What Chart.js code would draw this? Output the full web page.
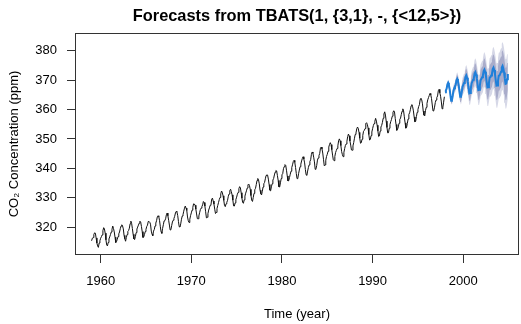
<!DOCTYPE html>
<html>
<head>
<meta charset="utf-8">
<script src="https://cdn.jsdelivr.net/npm/chart.js@4.4.1/dist/chart.umd.min.js"></script>
<style>
  html, body { margin: 0; padding: 0; background: #ffffff; }
  #wrap { width: 521px; height: 324px; }
</style>
</head>
<body>
<div id="wrap"><canvas id="c" width="521" height="324"></canvas></div>
<script>
// ---- Data ----
const titleText = 'Forecasts from TBATS(1, {3,1}, -, {<12,5>})';
const xTitle = 'Time (year)';
const yTitle = 'CO\u2082 Concentration (ppm)';
const historyStart = 1959;      // monthly, Jan 1959
const forecastStart = 1998;     // monthly, Jan 1998
const xTickValues = [1960, 1970, 1980, 1990, 2000];
const yTickValues = [320, 330, 340, 350, 360, 370, 380];

// Observed monthly CO2 (ppm), 1959-1997
const co2 = [
  315.42,316.31,316.50,317.56,318.13,318.00,316.39,314.65,313.68,313.18,314.66,315.43,
  316.27,316.81,317.42,318.87,319.87,319.43,318.01,315.74,314.00,313.68,314.84,316.03,
  316.73,317.54,318.38,319.31,320.42,319.61,318.42,316.63,314.83,315.16,315.94,316.85,
  317.78,318.40,319.53,320.42,320.85,320.45,319.45,317.25,316.11,315.27,316.53,317.53,
  318.58,318.92,319.70,321.22,322.08,321.31,319.58,317.61,316.05,315.83,316.91,318.20,
  319.41,320.07,320.74,321.40,322.06,321.73,320.27,318.54,316.54,316.71,317.53,318.55,
  319.27,320.28,320.73,321.97,322.00,321.71,321.05,318.71,317.66,317.14,318.70,319.25,
  320.46,321.43,322.23,323.54,323.91,323.59,322.24,320.20,318.48,317.94,319.63,320.87,
  322.17,322.34,322.88,324.25,324.83,323.93,322.38,320.76,319.10,319.24,320.56,321.80,
  322.40,322.99,323.73,324.86,325.40,325.20,323.98,321.95,320.18,320.09,321.16,322.74,
  323.83,324.26,325.47,326.50,327.21,326.54,325.72,323.50,322.22,321.62,322.69,323.95,
  324.89,325.82,326.77,327.97,327.91,327.50,326.18,324.53,322.93,322.90,323.85,324.96,
  326.01,326.51,327.01,327.62,328.76,328.40,327.20,325.27,323.20,323.40,324.63,325.85,
  326.60,327.47,327.58,329.56,329.90,328.92,327.88,326.16,324.68,325.04,326.34,327.39,
  328.37,329.40,330.14,331.33,332.31,331.90,330.70,329.15,327.35,327.02,327.99,328.48,
  329.18,330.55,331.32,332.48,332.92,332.08,331.01,329.23,327.27,327.21,328.29,329.41,
  330.23,331.25,331.87,333.14,333.80,333.43,331.73,329.90,328.40,328.17,329.32,330.59,
  331.58,332.39,333.33,334.41,334.71,334.17,332.89,330.77,329.14,328.78,330.14,331.52,
  332.75,333.24,334.53,335.90,336.57,336.10,334.76,332.59,331.42,330.98,332.24,333.68,
  334.80,335.22,336.47,337.59,337.84,337.72,336.37,334.51,332.60,332.38,333.75,334.78,
  336.05,336.59,337.79,338.71,339.30,339.12,337.56,335.92,333.75,333.70,335.12,336.56,
  337.84,338.19,339.91,340.60,341.29,341.00,339.39,337.43,335.72,335.84,336.93,338.04,
  339.06,340.30,341.21,342.33,342.74,342.08,340.32,338.26,336.52,336.68,338.19,339.44,
  340.57,341.44,342.53,343.39,343.96,343.18,341.88,339.65,337.81,337.69,339.09,340.32,
  341.20,342.35,342.93,344.77,345.58,345.14,343.81,342.21,339.69,339.82,340.98,342.82,
  343.52,344.33,345.11,346.88,347.25,346.62,345.22,343.11,340.90,341.18,342.80,344.04,
  344.79,345.82,347.25,348.17,348.74,348.07,346.38,344.51,342.92,342.62,344.06,345.38,
  346.11,346.78,347.68,349.37,350.03,349.37,347.76,345.73,344.68,343.99,345.48,346.72,
  347.84,348.29,349.23,350.80,351.66,351.07,349.33,347.92,346.27,346.18,347.64,348.78,
  350.25,351.54,352.05,353.41,354.04,353.62,352.22,350.27,348.55,348.72,349.91,351.18,
  352.60,352.92,353.53,355.26,355.52,354.97,353.75,351.52,349.64,349.83,351.14,352.37,
  353.50,354.55,355.23,356.04,357.00,356.07,354.67,352.76,350.82,351.04,352.69,354.07,
  354.59,355.63,357.03,358.48,359.22,358.12,356.06,353.92,352.05,352.11,353.64,354.89,
  355.88,356.63,357.72,359.07,359.58,359.17,356.94,354.92,352.94,353.23,354.09,355.33,
  356.63,357.10,358.32,359.41,360.23,359.55,357.53,355.48,353.67,353.95,355.30,356.78,
  358.34,358.89,359.95,361.25,361.67,360.94,359.55,357.49,355.84,356.00,357.59,359.05,
  359.98,361.03,361.66,363.48,363.82,363.30,361.94,359.50,358.11,357.80,359.61,360.74,
  362.09,363.29,364.06,364.76,365.45,365.01,363.70,361.54,359.51,359.65,360.80,362.38,
  363.23,364.06,364.61,366.40,366.84,365.68,364.52,362.57,360.24,360.83,362.49,364.34
];

// Point forecast, 1998-2004 (monthly)
const fcMean = [
  365.9,366.5,367.1,368.6,369.1,368.3,366.9,364.9,363.0,363.1,364.6,366.4,
  367.2,367.8,368.4,369.9,370.4,369.6,368.2,366.2,364.3,364.4,365.9,367.7,
  368.4,369.0,369.6,371.1,371.6,370.8,369.4,367.4,365.5,365.6,367.1,368.9,
  369.5,370.1,370.7,372.2,372.7,371.9,370.5,368.5,366.6,366.7,368.2,370.0,
  370.4,371.0,371.6,373.1,373.6,372.8,371.4,369.4,367.5,367.6,369.1,370.9,
  371.0,371.6,372.2,373.7,374.2,373.4,372.0,370.0,368.1,368.2,369.7,371.5,
  371.6,372.2,372.8,374.3,374.8,374.0,372.6,370.6,368.7,368.8,370.3,372.1
];
// 95% interval
const hi95 = [
  366.6,367.3,368.0,369.6,370.2,369.5,368.2,366.3,364.5,364.7,366.3,368.2,
  369.1,369.8,370.5,372.1,372.7,372.0,370.7,368.8,367.0,367.2,368.8,370.7,
  371.5,372.2,372.9,374.5,375.1,374.4,373.1,371.2,369.4,369.6,371.2,373.1,
  373.8,374.5,375.2,376.8,377.4,376.7,375.4,373.5,371.7,371.9,373.5,375.4,
  375.9,376.6,377.3,378.9,379.5,378.8,377.5,375.6,373.8,374.0,375.6,377.5,
  377.7,378.4,379.1,380.7,381.3,380.6,379.3,377.4,375.6,375.8,377.4,379.3,
  379.4,380.1,380.8,382.3,382.9,382.2,380.8,378.9,377.1,377.2,378.8,380.7
];
const lo95 = [
  365.2,365.7,366.2,367.6,368.0,367.1,365.6,363.5,361.5,361.5,362.9,364.6,
  365.3,365.8,366.3,367.7,368.1,367.2,365.7,363.6,361.6,361.6,363.0,364.7,
  365.3,365.8,366.3,367.7,368.1,367.2,365.7,363.6,361.6,361.6,363.0,364.7,
  365.2,365.7,366.2,367.6,368.0,367.1,365.6,363.5,361.5,361.5,362.9,364.6,
  364.9,365.4,365.9,367.3,367.7,366.8,365.3,363.2,361.2,361.2,362.6,364.3,
  364.3,364.8,365.3,366.7,367.1,366.2,364.7,362.6,360.6,360.6,362.0,363.7,
  363.8,364.3,364.8,366.3,366.7,365.8,364.4,362.3,360.3,360.4,361.8,363.5
];
// 80% interval
const hi80 = [
  366.4,367.0,367.7,369.3,369.8,369.1,367.7,365.8,364.0,364.1,365.7,367.6,
  368.4,369.1,369.8,371.3,371.9,371.2,369.8,367.9,366.1,366.2,367.8,369.7,
  370.4,371.1,371.7,373.3,373.9,373.1,371.8,369.9,368.0,368.2,369.8,371.6,
  372.3,373.0,373.6,375.2,375.7,375.0,373.7,371.7,369.9,370.1,371.6,373.5,
  374.0,374.6,375.3,376.9,377.4,376.7,375.3,373.4,371.6,371.7,373.3,375.2,
  375.4,376.0,376.7,378.3,378.8,378.1,376.7,374.8,373.0,373.1,374.7,376.6,
  376.7,377.3,378.0,379.5,380.1,379.3,377.9,376.0,374.2,374.3,375.8,377.7
];
const lo80 = [
  365.4,366.0,366.5,367.9,368.4,367.5,366.1,364.0,362.0,362.1,363.5,365.2,
  366.0,366.5,367.0,368.5,368.9,368.0,366.6,364.5,362.5,362.6,364.0,365.7,
  366.4,366.9,367.5,368.9,369.3,368.5,367.0,364.9,363.0,363.0,364.4,366.2,
  366.7,367.2,367.8,369.2,369.7,368.8,367.3,365.3,363.3,363.3,364.8,366.5,
  366.8,367.4,367.9,369.3,369.8,368.9,367.5,365.4,363.4,363.5,364.9,366.6,
  366.6,367.2,367.7,369.1,369.6,368.7,367.3,365.2,363.2,363.3,364.7,366.4,
  366.5,367.1,367.6,369.1,369.5,368.7,367.3,365.2,363.2,363.3,364.8,366.5
];

// ---- Build point lists (time = year + month/12) ----
const toPts = (arr, start) => arr.map((v, i) => ({ x: start + i / 12, y: v }));

const FONT = "'Liberation Sans', Arial, Helvetica, sans-serif";

const boxPlugin = {
  id: 'rbox',
  afterDraw(chart) {
    const { ctx, chartArea: a } = chart;
    ctx.save();
    ctx.strokeStyle = '#333333';
    ctx.lineWidth = 1;
    const l = Math.round(a.left) + 0.5, t = Math.round(a.top) + 0.5;
    const r = Math.round(a.right) - 0.5, b = Math.round(a.bottom) - 0.5;
    ctx.strokeRect(l, t, r - l, b - t);
    ctx.restore();
  }
};

const bandStyle = { pointRadius: 0, borderWidth: 0, borderColor: 'rgba(0,0,0,0)', tension: 0 };

new Chart(document.getElementById('c'), {
  type: 'line',
  data: {
    datasets: [
      { label: 'Forecast', data: toPts(fcMean, forecastStart), borderColor: '#1f7fd9', borderWidth: 2,
        pointRadius: 0, tension: 0, fill: false },
      { label: 'Observed', data: toPts(co2, historyStart), borderColor: '#111111', borderWidth: 1,
        pointRadius: 0, tension: 0, fill: false },
      Object.assign({ label: 'hi80', data: toPts(hi80, forecastStart), fill: '+1', backgroundColor: '#a9acca' }, bandStyle),
      Object.assign({ label: 'lo80', data: toPts(lo80, forecastStart), fill: false }, bandStyle),
      Object.assign({ label: 'hi95', data: toPts(hi95, forecastStart), fill: '+1', backgroundColor: '#d6d8e7' }, bandStyle),
      Object.assign({ label: 'lo95', data: toPts(lo95, forecastStart), fill: false }, bandStyle)
    ]
  },
  options: {
    responsive: false,
    animation: false,
    events: [],
    layout: { padding: { left: 0, right: 2, top: 0, bottom: 0 } },
    plugins: {
      legend: { display: false },
      tooltip: { enabled: false },
      title: {
        display: true, text: titleText, color: '#000000', fullSize: false,
        font: { family: FONT, size: 16.4, weight: 'bold' },
        padding: { top: 7, bottom: 6.3 }
      }
    },
    scales: {
      x: {
        type: 'linear', min: 1957.17, max: 2006.15,
        afterFit(s) { s.height = 69; },
        afterBuildTicks(s) { s.ticks = xTickValues.map(v => ({ value: v })); },
        grid: { drawOnChartArea: false, drawTicks: true, tickLength: 8, color: '#333333' },
        border: { display: false },
        ticks: { color: '#000000', padding: 11, maxRotation: 0, autoSkip: false,
                 font: { family: FONT, size: 13 }, callback: v => String(v) },
        title: { display: true, text: xTitle, color: '#000000',
                 font: { family: FONT, size: 13 }, padding: { top: 0, bottom: 2 } }
      },
      y: {
        type: 'linear', min: 310.59, max: 386.0,
        afterFit(s) { s.width = 75; },
        afterBuildTicks(s) { s.ticks = yTickValues.map(v => ({ value: v })); },
        grid: { drawOnChartArea: false, drawTicks: true, tickLength: 8, color: '#333333' },
        border: { display: false },
        ticks: { color: '#000000', padding: 10, autoSkip: false,
                 font: { family: FONT, size: 13 }, callback: v => String(v) },
        title: { display: true, text: yTitle, color: '#000000',
                 font: { family: FONT, size: 13 }, padding: { top: 7, bottom: 0 } }
      }
    }
  },
  plugins: [boxPlugin]
});
</script>
</body>
</html>
